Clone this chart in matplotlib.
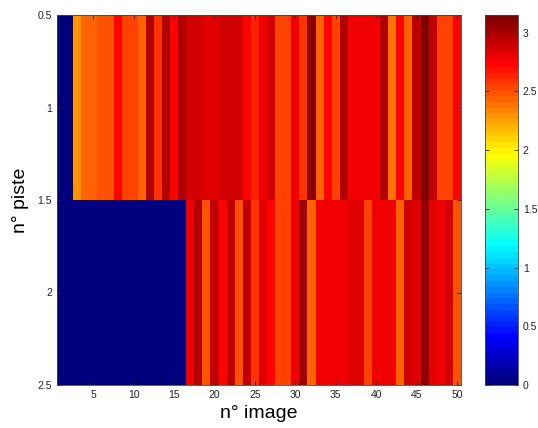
import numpy as np
import matplotlib
matplotlib.use("Agg")
import matplotlib.pyplot as plt
from matplotlib.colors import LinearSegmentedColormap

plt.rcParams['font.family'] = ['Liberation Sans', 'DejaVu Sans']

# Values per image (columns 1..50) for each track (piste)
piste1 = [0, 0, 2.28, 2.42, 2.42, 2.48, 2.48, 2.75, 2.55, 2.55,
          2.42, 3.0, 2.58, 3.0, 2.75, 3.0, 2.9, 2.9, 2.85, 2.85,
          2.87, 2.87, 2.86, 2.75, 2.62, 2.8, 2.9, 2.55, 2.55, 2.8,
          2.6, 3.1, 2.42, 2.75, 2.55, 3.0, 2.8, 2.8, 2.8, 2.78,
          3.0, 2.4, 2.75, 2.45, 2.95, 3.14, 2.95, 2.55, 2.55, 2.72]
piste2 = [0, 0, 0, 0, 0, 0, 0, 0, 0, 0,
          0, 0, 0, 0, 0, 0, 2.8, 3.0, 2.48, 2.95,
          2.75, 2.95, 2.5, 2.95, 2.58, 2.85, 2.75, 2.55, 2.55, 2.8,
          3.05, 2.45, 2.76, 2.76, 2.76, 2.76, 2.85, 2.85, 2.55, 2.8,
          2.8, 2.78, 2.42, 2.9, 2.82, 3.1, 2.85, 2.76, 2.9, 2.48]
xticks = [5, 10, 15, 20, 25, 30, 35, 40, 45, 50]
yticks = [0.5, 1, 1.5, 2, 2.5]
yticklabels = ["0.5", "1", "1.5", "2", "2.5"]
cticks = [0, 0.5, 1, 1.5, 2, 2.5, 3]
cticklabels = ["0", "0.5", "1", "1.5", "2", "2.5", "3"]

# MATLAB-style jet colormap
matlab_jet = LinearSegmentedColormap('matlab_jet', {
    'red':   [(0, 0, 0), (0.375, 0, 0), (0.625, 1, 1), (0.875, 1, 1), (1, 0.5, 0.5)],
    'green': [(0, 0, 0), (0.125, 0, 0), (0.375, 1, 1), (0.625, 1, 1), (0.875, 0, 0), (1, 0, 0)],
    'blue':  [(0, 0.5, 0.5), (0.125, 1, 1), (0.375, 1, 1), (0.625, 0, 0), (1, 0, 0)],
}, N=64)

data = np.array([piste1, piste2])
ncol = data.shape[1]

fig = plt.figure(figsize=(5.38, 4.28), dpi=100)
ax = fig.add_axes([57/538, 43/428, 404/538, 370/428])
im = ax.imshow(data, cmap=matlab_jet, aspect='auto', interpolation='nearest',
               extent=[0.5, ncol + 0.5, 2.5, 0.5], vmin=0, vmax=3.15)
ax.set_xticks(xticks)
ax.set_yticks(yticks)
ax.set_yticklabels(yticklabels)
ax.tick_params(direction='in', length=3, width=0.6, labelsize=7.5,
               top=True, right=True, colors='#222222')
for s in ax.spines.values():
    s.set_linewidth(0.6)
    s.set_color('#444444')
ax.set_xlabel("n° image", fontsize=14, labelpad=4)
ax.set_ylabel("n° piste", fontsize=14, labelpad=6)

cax = fig.add_axes([485/538, 43/428, 33/538, 370/428])
cb = fig.colorbar(im, cax=cax, ticks=cticks)
cb.set_ticklabels(cticklabels)
cb.ax.tick_params(direction='in', length=3, width=0.6, labelsize=7.5,
                  left=True, right=True, colors='#222222')
cb.outline.set_linewidth(0.6)
cb.outline.set_edgecolor('#444444')

fig.savefig("out.png", dpi=100)
